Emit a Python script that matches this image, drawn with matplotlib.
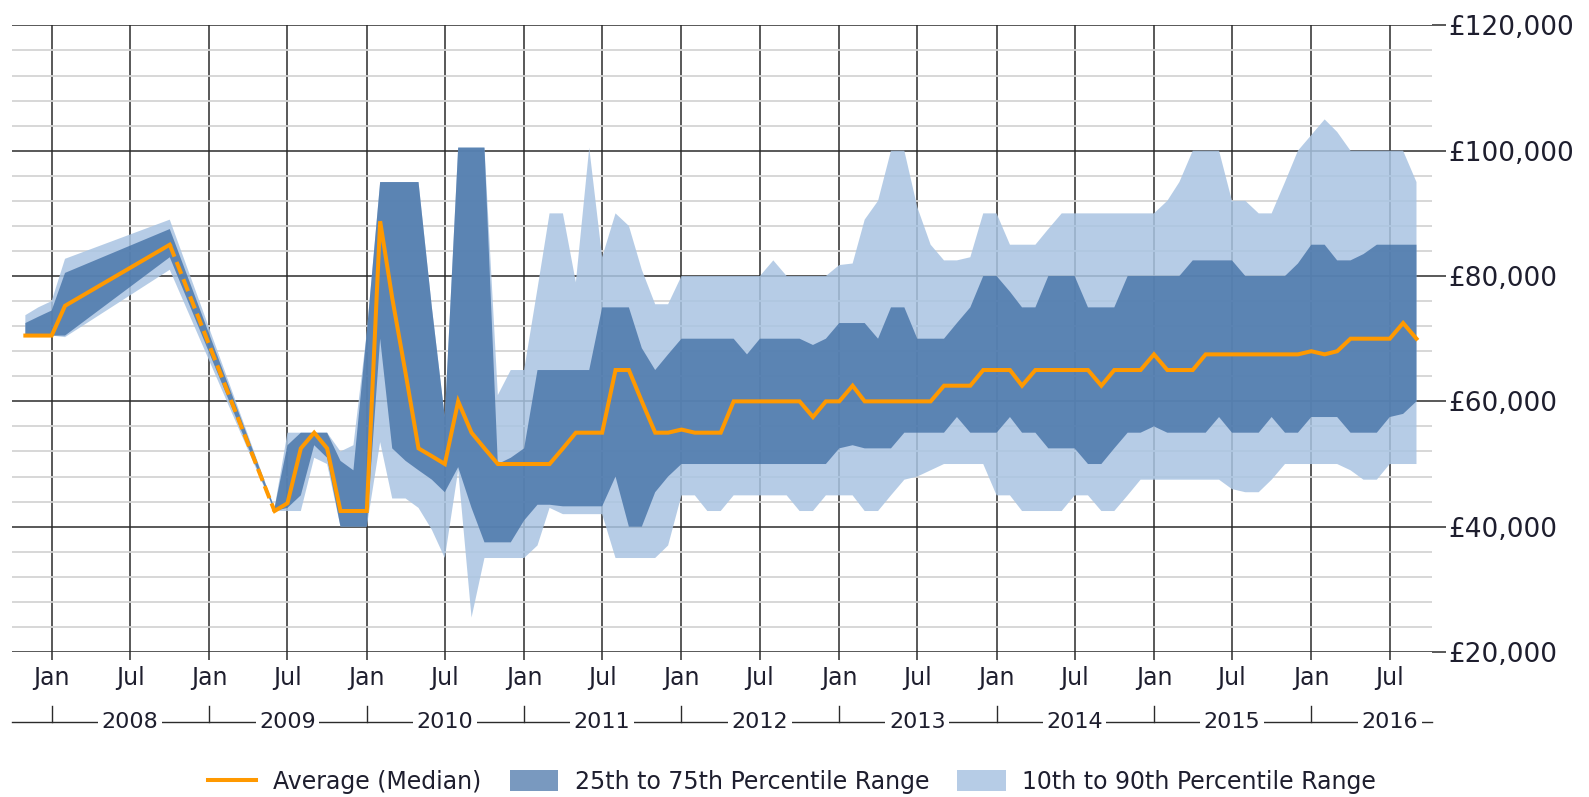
import datetime as dt
import numpy as np
import matplotlib
matplotlib.use('Agg')
import matplotlib.pyplot as plt
import matplotlib.dates as mdates
import matplotlib.transforms as mtrans
from matplotlib.lines import Line2D
from matplotlib.patches import Patch
from matplotlib.ticker import FuncFormatter, MultipleLocator

# ---------------- data (values in £ thousands) ----------------
months = ['2007-11', '2007-12', '2008-01', '2008-02', '2008-10',
          '2009-06', '2009-07', '2009-08', '2009-09', '2009-10', '2009-11', '2009-12',
          '2010-01', '2010-02', '2010-03', '2010-04', '2010-05', '2010-06',
          '2010-07', '2010-08', '2010-09', '2010-10', '2010-11', '2010-12',
          '2011-01', '2011-02', '2011-03', '2011-04', '2011-05', '2011-06',
          '2011-07', '2011-08', '2011-09', '2011-10', '2011-11', '2011-12',
          '2012-01', '2012-02', '2012-03', '2012-04', '2012-05', '2012-06',
          '2012-07', '2012-08', '2012-09', '2012-10', '2012-11', '2012-12',
          '2013-01', '2013-02', '2013-03', '2013-04', '2013-05', '2013-06',
          '2013-07', '2013-08', '2013-09', '2013-10', '2013-11', '2013-12',
          '2014-01', '2014-02', '2014-03', '2014-04', '2014-05', '2014-06',
          '2014-07', '2014-08', '2014-09', '2014-10', '2014-11', '2014-12',
          '2015-01', '2015-02', '2015-03', '2015-04', '2015-05', '2015-06',
          '2015-07', '2015-08', '2015-09', '2015-10', '2015-11', '2015-12',
          '2016-01', '2016-02', '2016-03', '2016-04', '2016-05', '2016-06',
          '2016-07', '2016-08', '2016-09']

p10 = [70.5, 70.5, 70.5, 70.25, 81,
       42.5, 42.5, 42.5, 51, 50, 40, 40,
       40, 53.5, 44.5, 44.5, 43, 39.5, 35, 49, 25.5, 35, 35, 35,
       35, 37, 43, 42, 42, 42, 42, 35, 35, 35, 35, 37,
       45, 45, 42.5, 42.5, 45, 45, 45, 45, 45, 42.5, 42.5, 45,
       45, 45, 42.5, 42.5, 45, 47.5, 48, 49, 50, 50, 50, 50,
       45, 45, 42.5, 42.5, 42.5, 42.5, 45, 45, 42.5, 42.5, 45, 47.5,
       47.5, 47.5, 47.5, 47.5, 47.5, 47.5, 46, 45.5, 45.5, 47.5, 50, 50,
       50, 50, 50, 49, 47.5, 47.5, 50, 50, 50]

p25 = [70.5, 70.5, 70.5, 70.5, 83,
       42.5, 43, 45, 53, 51, 40, 40,
       40, 70, 52.5, 50.5, 49, 47.5, 45.5, 49.5, 43, 37.5, 37.5, 37.5,
       41, 43.5, 43.5, 43.25, 43.25, 43.25, 43.25, 48, 40, 40, 45.5, 48,
       50, 50, 50, 50, 50, 50, 50, 50, 50, 50, 50, 50,
       52.5, 53, 52.5, 52.5, 52.5, 55, 55, 55, 55, 57.5, 55, 55,
       55, 57.5, 55, 55, 52.5, 52.5, 52.5, 50, 50, 52.5, 55, 55,
       56, 55, 55, 55, 55, 57.5, 55, 55, 55, 57.5, 55, 55,
       57.5, 57.5, 57.5, 55, 55, 55, 57.5, 58, 60]

median = [70.5, 70.5, 70.5, 75.25, 85,
          42.5, 43.75, 52.5, 55, 52.5, 42.5, 42.5,
          42.5, 88.75, 76.5, 64.5, 52.5, 51.25, 50, 60, 55, 52.5, 50, 50,
          50, 50, 50, 52.5, 55, 55, 55, 65, 65, 60, 55, 55,
          55.5, 55, 55, 55, 60, 60, 60, 60, 60, 60, 57.5, 60,
          60, 62.5, 60, 60, 60, 60, 60, 60, 62.5, 62.5, 62.5, 65,
          65, 65, 62.5, 65, 65, 65, 65, 65, 62.5, 65, 65, 65,
          67.5, 65, 65, 65, 67.5, 67.5, 67.5, 67.5, 67.5, 67.5, 67.5, 67.5,
          68, 67.5, 68, 70, 70, 70, 70, 72.5, 70]

p75 = [72.5, 73.5, 74.5, 80.5, 87.5,
       43, 53, 55, 55, 55, 50.5, 49,
       71, 95, 95, 95, 95, 75, 57.5, 100.5, 100.5, 100.5, 50, 51,
       52.5, 65, 65, 65, 65, 65, 75, 75, 75, 68.5, 65, 67.5,
       70, 70, 70, 70, 70, 67.5, 70, 70, 70, 70, 69, 70,
       72.5, 72.5, 72.5, 70, 75, 75, 70, 70, 70, 72.5, 75, 80,
       80, 77.5, 75, 75, 80, 80, 80, 75, 75, 75, 80, 80,
       80, 80, 80, 82.5, 82.5, 82.5, 82.5, 80, 80, 80, 80, 82,
       85, 85, 82.5, 82.5, 83.5, 85, 85, 85, 85]

p90 = [73.75, 75, 76, 82.75, 89,
       43, 55, 55, 55, 55, 52, 53,
       71, 95, 95, 95, 95, 75, 57.5, 100.5, 100.5, 100.5, 61, 65,
       65, 78, 90, 90, 79, 100.5, 83, 90, 88, 81, 75.5, 75.5,
       80, 80, 80, 80, 80, 80, 80, 82.5, 80, 80, 80, 80,
       81.75, 82, 89, 92, 100, 100, 91, 85, 82.5, 82.5, 83, 90,
       90, 85, 85, 85, 87.5, 90, 90, 90, 90, 90, 90, 90,
       90, 92, 95, 100, 100, 100, 92, 92, 90, 90, 95, 100,
       102.5, 105, 103, 100, 100, 100, 100, 100, 95]

gap_start, gap_end = '2008-10', '2009-06'   # median drawn dashed across this gap

y_ticks = [20000, 40000, 60000, 80000, 100000, 120000]
legend_labels = ['Average (Median)', '25th to 75th Percentile Range',
                 '10th to 90th Percentile Range']

# ---------------- styling ----------------
ORANGE = '#FF9900'
DARK = '#4572A7'
LIGHT = '#A9C4E2'
GRID_DARK = '#2b2b2b'
GRID_LIGHT = '#d4d4d4'
TXT = '#1e1e2e'

x = [dt.datetime.strptime(m, '%Y-%m') for m in months]
k = 1000.0
P10 = np.array(p10) * k
P25 = np.array(p25) * k
MED = np.array(median) * k
P75 = np.array(p75) * k
P90 = np.array(p90) * k

W, H = 1589, 797
fig = plt.figure(figsize=(W / 100, H / 100), dpi=100)
ax = fig.add_axes([12 / W, 1 - 652 / H, (1432 - 12) / W, (652 - 25.4) / H])

xmin = dt.datetime(2007, 10, 1)
xmax = dt.datetime(2016, 10, 7)
ax.set_xlim(xmin, xmax)
ax.set_ylim(y_ticks[0], y_ticks[-1])

# bands
ax.fill_between(x, P10, P90, facecolor=LIGHT, alpha=0.85, lw=0, zorder=2)
ax.fill_between(x, P25, P75, facecolor=DARK, alpha=0.8, lw=0, zorder=3)

# median line (dashed across the data gap)
i1 = months.index(gap_start)
i2 = months.index(gap_end)
lw_med = 2.9
ax.plot(x[:i1 + 1], MED[:i1 + 1], color=ORANGE, lw=lw_med, zorder=5,
        solid_joinstyle='miter')
ax.plot(x[i1:i2 + 1], MED[i1:i2 + 1], color=ORANGE, lw=lw_med, zorder=5,
        linestyle=(0, (3.2, 1.4)), dash_capstyle='butt')
ax.plot(x[i2:], MED[i2:], color=ORANGE, lw=lw_med, zorder=5,
        solid_joinstyle='miter')

# grid
ax.set_axisbelow(True)
ax.yaxis.set_major_locator(plt.FixedLocator(y_ticks))
ax.yaxis.set_minor_locator(MultipleLocator(4000))
ax.xaxis.set_major_locator(mdates.MonthLocator(bymonth=[1, 7]))
ax.xaxis.set_major_formatter(mdates.DateFormatter('%b'))
ax.grid(True, which='major', axis='both', color=GRID_DARK, lw=1.1, zorder=1)
ax.grid(True, which='minor', axis='y', color=GRID_LIGHT, lw=1.3, zorder=0.5)

for s in ax.spines.values():
    s.set_visible(False)

ax.yaxis.tick_right()
ax.yaxis.set_major_formatter(FuncFormatter(lambda v, p: f'£{int(v):,}'))
ax.tick_params(axis='y', which='major', length=10, width=1.1, color=GRID_DARK,
               pad=2, labelsize=19, labelcolor=TXT)
ax.tick_params(axis='y', which='minor', length=0)
ax.tick_params(axis='x', which='major', length=6, width=1.1, color=GRID_DARK,
               pad=4, labelsize=17, labelcolor=TXT, direction='out')

# second row: years
trans = mtrans.blended_transform_factory(ax.transData, ax.transAxes)
ax_h = 652 - 25.4
y_row = -(721.5 - 652) / ax_h
tick_h = 16 / ax_h
ax.plot([xmin, xmax], [y_row, y_row], transform=trans, color=GRID_DARK, lw=1.0,
        clip_on=False, zorder=1)
years = list(range(2008, 2017))
for yr in years:
    d = dt.datetime(yr, 1, 1)
    ax.plot([d, d], [y_row, y_row + tick_h], transform=trans, color=GRID_DARK,
            lw=1.0, clip_on=False)
    ax.text(dt.datetime(yr, 7, 1), y_row, str(yr), transform=trans, ha='center',
            va='center', fontsize=16, color=TXT, zorder=3,
            bbox=dict(facecolor='white', edgecolor='none', pad=2.5))

# legend
handles = [Line2D([], [], color=ORANGE, lw=lw_med),
           Patch(facecolor=DARK, alpha=0.72, edgecolor='none'),
           Patch(facecolor=LIGHT, alpha=0.85, edgecolor='none')]
leg = fig.legend(handles, legend_labels, loc='center', bbox_to_anchor=(0.4985, 0.019),
                 ncol=3, frameon=False, fontsize=17, handlelength=2.05,
                 handleheight=1.0, handletextpad=0.7, columnspacing=1.2)
for t in leg.get_texts():
    t.set_color(TXT)

fig.savefig('out.png', dpi=100, facecolor='white')
